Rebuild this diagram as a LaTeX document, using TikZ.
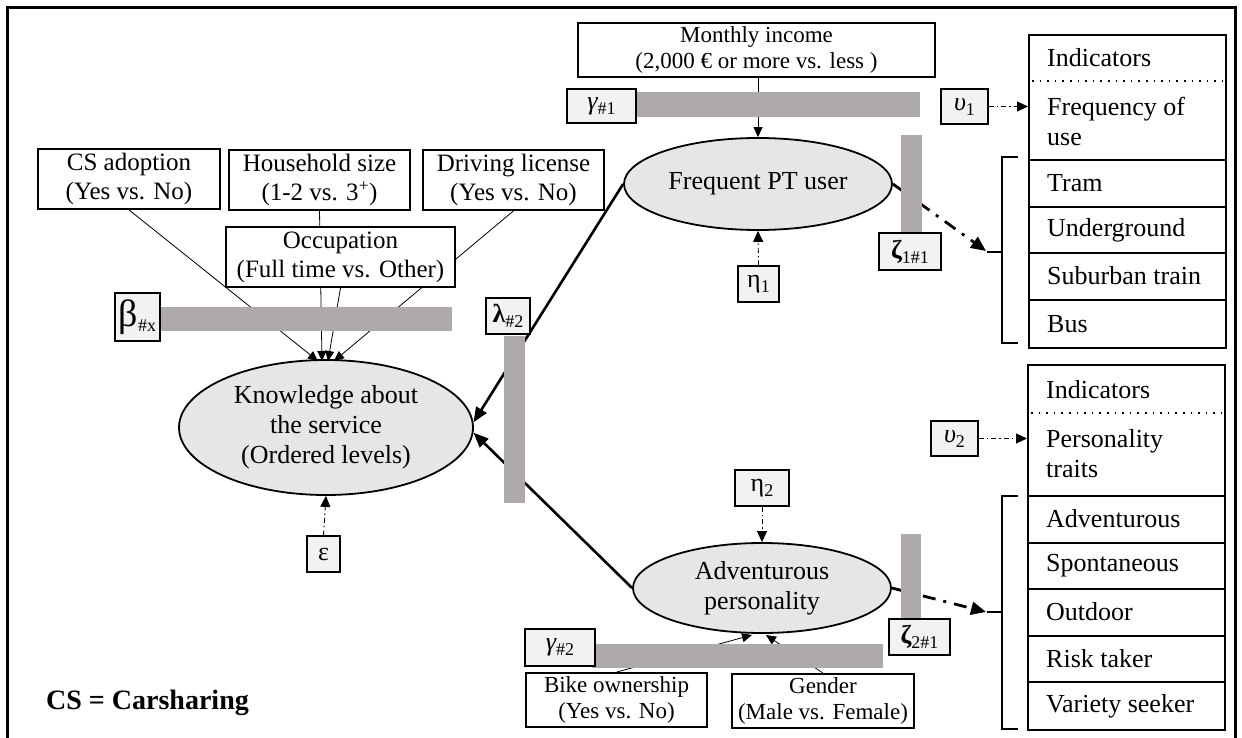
\documentclass[tikz,border=0pt]{standalone}
\usepackage{fontspec}
\setmainfont{Liberation Serif}
\usetikzlibrary{shapes.geometric,arrows.meta}

\definecolor{barcol}{RGB}{174,170,170}
\definecolor{ellfill}{RGB}{231,230,230}
\definecolor{lblfill}{RGB}{242,242,242}

% small lowered index used in the parameter labels
\newcommand{\lowidx}[1]{\raisebox{-5pt}{\fontsize{18}{18}\selectfont #1}}

\pgfdeclarelayer{links}
\pgfsetlayers{links,main}

\tikzset{
  box/.style={draw, line width=1.8pt, fill=white, inner sep=0pt, align=center,
    font=\fontsize{25}{29}\selectfont},
  smallbox/.style={box, font=\fontsize{23}{26}\selectfont},
  lbl/.style={draw, line width=1.2pt, fill=lblfill, inner sep=0pt,
    font=\fontsize{26}{28}\selectfont},
  bar/.style={fill=barcol, draw=none, inner sep=0pt},
  latent/.style={ellipse, draw, line width=1.8pt, fill=ellfill, inner sep=0pt,
    align=center, font=\fontsize{26}{30}\selectfont},
  link/.style={line width=0.8pt, -{Triangle[length=10pt,width=9pt]}},
  err/.style={line width=0.9pt, dash pattern=on 5pt off 3pt on 1.5pt off 3pt,
    -{Triangle[length=11pt,width=10pt]}},
  struct/.style={line width=2.6pt, -{Triangle[length=15pt,width=12pt]}},
  meas/.style={line width=2.8pt, dash pattern=on 13pt off 8pt on 3pt off 8pt,
    -{Triangle[length=15pt,width=13pt]}},
  row/.style={draw, line width=2pt, inner sep=0pt, minimum width=197pt, anchor=north west},
  rowtxt/.style={anchor=west, inner sep=0pt, font=\fontsize{26}{30}\selectfont, align=left},
  brace/.style={line width=2.8pt},
}

\begin{document}
\begin{tikzpicture}[x=1pt,y=-1pt]
\useasboundingbox (0,0) rectangle (1242,738);
% frame, open at the bottom
\draw[line width=3pt] (7,738) -- (7,8) -- (1235,8) -- (1235,738);

% ---------------- knowledge block ----------------
\node[box, minimum width=182pt, minimum height=60pt] (cs) at (129,179) {CS adoption\\(Yes vs. No)};
\node[box, minimum width=181pt, minimum height=60pt] (hh) at (319.5,180) {Household size\\(1-2 vs. 3\textsuperscript{+})};
\node[box, minimum width=181pt, minimum height=60pt] (dl) at (513.5,180) {Driving license\\(Yes vs. No)};
\node[box, minimum width=229pt, minimum height=60pt] (occ) at (340.5,257) {Occupation\\(Full time vs. Other)};
\node[bar, minimum width=292pt, minimum height=24pt] (betabar) at (306,319) {};
\node[lbl, minimum width=45pt, minimum height=48pt] (beta) at (137.5,317)
  {\fontsize{38}{38}\selectfont β\lowidx{\#x}};
\node[latent, minimum width=294pt, minimum height=135pt] (know) at (326,427.5)
  {Knowledge about\\the service\\(Ordered levels)};
\node[lbl, minimum width=33pt, minimum height=36pt] (eps) at (323.5,554) {ε};
\node[anchor=west, inner sep=0pt, font=\fontsize{28}{30}\selectfont\bfseries] (note) at (46,703)
  {CS = Carsharing};

\coordinate (kt1) at (318,361);
\coordinate (kt2) at (322,361);
\coordinate (kt3) at (328,361);
\coordinate (kt4) at (334,361);

% ---------------- structural paths ----------------
\node[bar, minimum width=21pt, minimum height=167pt] (lambar) at (514.5,419.5) {};
\node[lbl, minimum width=44pt, minimum height=36pt] (lam) at (508,316)
  {\bfseries λ\lowidx{\mdseries\#2}};

% ---------------- frequent PT user ----------------
\node[smallbox, minimum width=357pt, minimum height=54pt] (inc) at (756.5,50)
  {Monthly income\\(2,000 € or more vs. less )};
\node[bar, minimum width=284pt, minimum height=25pt] (gam1bar) at (778,104.5) {};
\node[lbl, minimum width=69pt, minimum height=34pt] (gam1) at (601.5,106)
  {\itshape γ\upshape\lowidx{\#1}};
\node[latent, minimum width=268pt, minimum height=92pt] (fpt) at (758,184) {Frequent PT user};
\node[lbl, minimum width=41pt, minimum height=36pt] (eta1) at (758.5,284) {η\lowidx{1}};
\node[bar, minimum width=21pt, minimum height=98pt] (z1bar) at (911.5,184) {};
\node[lbl, minimum width=62pt, minimum height=37pt] (z1) at (910,251.5)
  {\bfseries ζ\lowidx{\mdseries 1\#1}};
\node[lbl, minimum width=47pt, minimum height=35pt] (u1) at (964.5,106.5)
  {\itshape υ\upshape\lowidx{1}};

% indicator table 1
\node[row, minimum height=125pt] (ind1) at (1028,34) {};
\draw[line width=1.6pt, dash pattern=on 1.6pt off 6pt] (1032,81) -- (1223,81);
\node[rowtxt] (ind1h) at (1047,58) {Indicators};
\node[rowtxt] (ind1f) at (1047,121) {Frequency of\\use};
\node[row, minimum height=47pt] (tram) at (1028,159) {};
\node[row, minimum height=46pt] (ug) at (1028,206) {};
\node[row, minimum height=47pt] (sub) at (1028,252) {};
\node[row, minimum height=48pt] (bus) at (1028,299) {};
\node[rowtxt] at (1047,183) {Tram};
\node[rowtxt] at (1047,230) {Underground};
\node[rowtxt] at (1047,276) {Suburban train};
\node[rowtxt] at (1047,324) {Bus};
\draw[brace] (1018,157) -- (1002,157) -- (1002,343) -- (1018,343);
\draw[brace] (1002,252) -- (987,252);
\coordinate (br1) at (986,251);

% ---------------- adventurous personality ----------------
\node[lbl, minimum width=54pt, minimum height=36pt] (eta2) at (762,488) {η\lowidx{2}};
\node[latent, minimum width=258pt, minimum height=90pt] (adv) at (762,588)
  {Adventurous\\personality};
\node[bar, minimum width=20pt, minimum height=84pt] (z2bar) at (911,576) {};
\node[lbl, minimum width=61pt, minimum height=36pt] (z2) at (919.5,637)
  {\bfseries ζ\lowidx{\mdseries 2\#1}};
\node[bar, minimum width=291pt, minimum height=24pt] (gam2bar) at (737.5,656) {};
\node[lbl, minimum width=70pt, minimum height=37pt] (gam2) at (560,647.5)
  {\itshape γ\upshape\lowidx{\#2}};
\node[smallbox, minimum width=181pt, minimum height=54pt] (bike) at (616.5,700)
  {Bike ownership\\(Yes vs. No)};
\node[smallbox, minimum width=182pt, minimum height=54pt] (gender) at (823,701)
  {Gender\\(Male vs. Female)};
\node[lbl, minimum width=47pt, minimum height=35pt] (u2) at (954.5,438.5)
  {\itshape υ\upshape\lowidx{2}};
\coordinate (at1) at (752,635);
\coordinate (at2) at (766,635);

% indicator table 2
\node[row, minimum height=131pt] (ind2) at (1027,364) {};
\draw[line width=1.6pt, dash pattern=on 1.6pt off 6pt] (1031,413) -- (1222,413);
\node[rowtxt] (ind2h) at (1046,390) {Indicators};
\node[rowtxt] (ind2f) at (1046,454) {Personality\\traits};
\node[row, minimum height=47pt] (adv1) at (1027,495) {};
\node[row, minimum height=46pt] (adv2) at (1027,542) {};
\node[row, minimum height=47pt] (adv3) at (1027,588) {};
\node[row, minimum height=46pt] (adv4) at (1027,635) {};
\node[row, minimum height=48pt] (adv5) at (1027,681) {};
\node[rowtxt] at (1046,519) {Adventurous};
\node[rowtxt] at (1046,566) {Spontaneous};
\node[rowtxt] at (1046,612) {Outdoor};
\node[rowtxt] at (1046,659) {Risk taker};
\node[rowtxt] at (1046,706) {Variety seeker};
\draw[brace] (1018,496) -- (1002,496) -- (1002,729) -- (1018,729);
\draw[brace] (1002,612) -- (987,612);
\coordinate (br2) at (986,612);

% ---------------- connectors (drawn beneath boxes and bars) ----------------
\begin{pgfonlayer}{links}
  \draw[link] (cs.south) -- (kt1);
  \draw[link] (hh.south) -- (kt2);
  \draw[link] (occ.south) -- (kt3);
  \draw[link] (dl.south) -- (kt4);
  \draw[err] (eps.north) -- (know.south);
  \draw[struct] (fpt.west) -- (know.2);
  \draw[struct] (adv.west) -- (know.-2);
  \draw[link] (fpt.north |- inc.south) -- (fpt.north);
  \draw[err] (eta1.north) -- (fpt.south);
  \draw[meas] (fpt.east) -- (br1);
  \draw[err] (u1.east) -- (u1.east -| ind1.west);
  \draw[err] (eta2.south) -- (adv.north);
  \draw[link] (bike.north) -- (at1);
  \draw[link] (gender.north) -- (at2);
  \draw[meas] (adv.east) -- (br2);
  \draw[err] (u2.east) -- (u2.east -| ind2.west);
\end{pgfonlayer}
\end{tikzpicture}
\end{document}
